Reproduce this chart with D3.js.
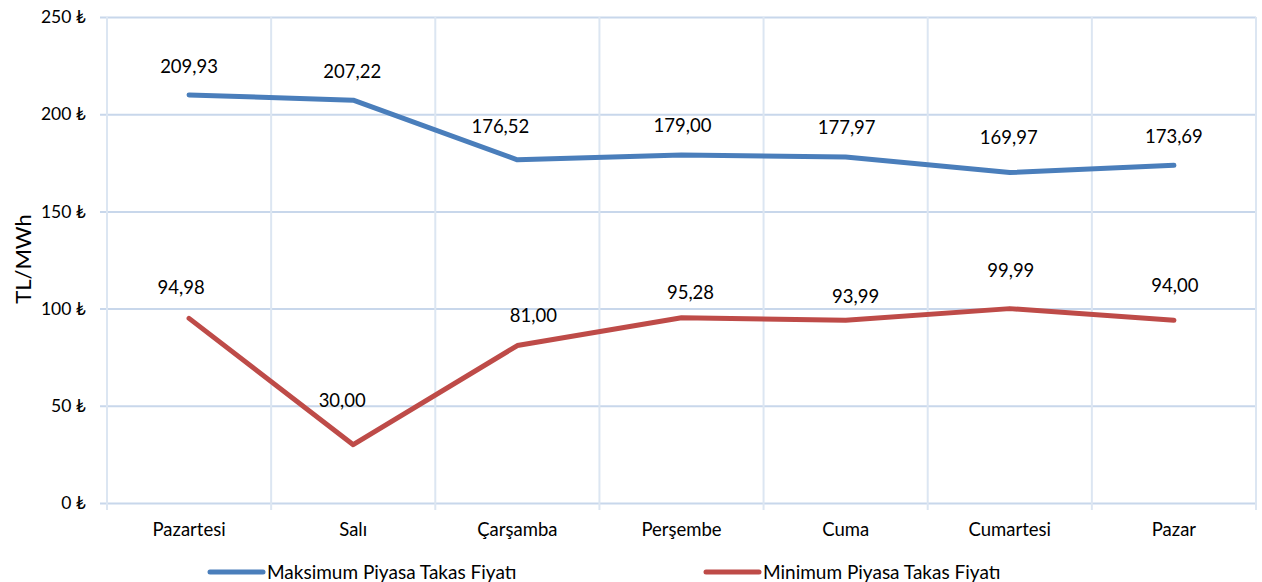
<!DOCTYPE html>
<html>
<head>
<meta charset="utf-8">
<script src="https://cdn.jsdelivr.net/npm/d3@7"></script>
<style>
  body { margin: 0; background: #fff; }
  svg text { font-family: Lato, "Noto Sans", sans-serif; fill: #000; }
</style>
</head>
<body>
<div class="container"></div>
<script>
// data
const days = ['Pazartesi', 'Salı', 'Çarşamba', 'Perşembe', 'Cuma', 'Cumartesi', 'Pazar'];
const maxPrices = [209.93, 207.22, 176.52, 179.00, 177.97, 169.97, 173.69];
const minPrices = [94.98, 30.00, 81.00, 95.28, 93.99, 99.99, 94.00];
const yTicks = [0, 50, 100, 150, 200, 250];
const seriesNames = ['Maksimum Piyasa Takas Fiyatı', 'Minimum Piyasa Takas Fiyatı'];

// label nudges (px, relative to point)
const maxNudge = [[0, -28], [-1, -29], [-17, -33], [1, -29], [1, -30], [-1, -35], [0, -29]];
const minNudge = [[-8, -31], [-11, -44], [16, -30], [9, -25], [10, -24], [1, -38], [1, -35]];

const w = 1262;
const h = 582;
const [margin_top, margin_left, margin_bottom, margin_right] = [17, 107, 79, 6];
const plotWidth = w - margin_left - margin_right;
const plotHeight = h - margin_top - margin_bottom;

const colors = ['#4a7ebb', '#be4b48'];
const fmt = v => v.toFixed(2).replace('.', ',');
const fs = 18.5;

const svg = d3.select('.container')
              .append('svg')
              .attr('width', w)
              .attr('height', h);
const plot = svg.append('g')
                .attr('transform', `translate(${margin_left}, ${margin_top})`);

const x = d3.scaleBand()
            .domain(days)
            .range([0, plotWidth]);
const y = d3.scaleLinear()
            .domain([0, 250])
            .range([plotHeight, 0]);

// horizontal grid + y labels
const yAxis = d3.axisLeft(y)
                .tickValues(yTicks)
                .tickSize(-(plotWidth + 7))
                .tickPadding(14)
                .tickFormat(d => d + ' ₺');
const yGroup = plot.append('g')
                   .attr('transform', 'translate(-7, 0)')
                   .call(yAxis);
yGroup.select('.domain').remove();
yGroup.selectAll('line').attr('stroke', '#c8d7eb').attr('stroke-width', 2);
yGroup.selectAll('text').attr('font-size', 17.5).attr('fill', '#000');

// vertical grid (category boundaries)
const bounds = days.map(d => x(d)).concat([plotWidth]);
plot.selectAll('.vgrid')
    .data(bounds)
    .enter()
    .append('line')
    .attr('class', 'vgrid')
    .attr('x1', d => d).attr('x2', d => d)
    .attr('y1', 0).attr('y2', plotHeight + 7)
    .attr('stroke', '#dce6f2')
    .attr('stroke-width', 2);

// x labels
const xAxis = d3.axisBottom(x).tickSize(0).tickPadding(20);
const xGroup = plot.append('g')
                   .attr('transform', `translate(0, ${plotHeight})`)
                   .call(xAxis);
xGroup.select('.domain').remove();
xGroup.selectAll('text').attr('font-size', fs).attr('fill', '#000');

// lines
const cx = d => x(d) + x.bandwidth() / 2;
const line = d3.line()
               .x((d, i) => cx(days[i]))
               .y(d => y(d));

const series = [
    { name: seriesNames[0], values: maxPrices, nudge: maxNudge, color: colors[0] },
    { name: seriesNames[1], values: minPrices, nudge: minNudge, color: colors[1] }
];

series.forEach(s => {
    plot.append('path')
        .datum(s.values)
        .attr('d', line)
        .attr('fill', 'none')
        .attr('stroke', s.color)
        .attr('stroke-width', 5)
        .attr('stroke-linejoin', 'round')
        .attr('stroke-linecap', 'round');

    plot.selectAll(null)
        .data(s.values)
        .enter()
        .append('text')
        .attr('x', (d, i) => cx(days[i]) + s.nudge[i][0])
        .attr('y', (d, i) => y(d) + s.nudge[i][1])
        .attr('dy', '0.35em')
        .attr('text-anchor', 'middle')
        .attr('font-size', fs)
        .text(d => fmt(d));
});

// axis title
svg.append('text')
   .attr('transform', 'translate(31, 259) rotate(-90)')
   .attr('text-anchor', 'middle')
   .attr('font-size', 22)
   .text('TL/MWh');

// legend
const legendX = [210, 706];
const legend = svg.selectAll('.legend')
                  .data(series)
                  .enter()
                  .append('g')
                  .attr('class', 'legend')
                  .attr('transform', (d, i) => `translate(${legendX[i]}, 572)`);
legend.append('line')
      .attr('x1', 0).attr('x2', 53)
      .attr('stroke', d => d.color)
      .attr('stroke-width', 5)
      .attr('stroke-linecap', 'round');
legend.append('text')
      .attr('x', 57)
      .attr('dy', '0.35em')
      .attr('font-size', fs + 0.5)
      .text(d => d.name);
</script>
</body>
</html>
